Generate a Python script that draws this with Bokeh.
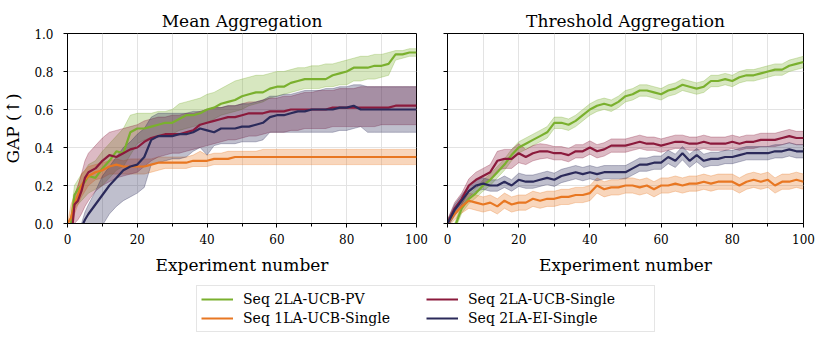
from bokeh.plotting import figure
from bokeh.models import Range1d, FixedTicker, Legend, LegendItem, PrintfTickFormatter, CustomJSTickFormatter
from bokeh.layouts import row, column
from bokeh.embed import file_html
from bokeh.resources import INLINE

# ---------------- data ----------------
labels = ["Seq 2LA-UCB-PV", "Seq 1LA-UCB-Single", "Seq 2LA-UCB-Single", "Seq 2LA-EI-Single"]
colors = ["#7ab02e", "#e87722", "#8b1a3c", "#2b2a5a"]

x_major = [0, 20, 40, 60, 80, 100]
x_minor = [10, 30, 50, 70, 90]
y_ticks = [0.0, 0.2, 0.4, 0.6, 0.8, 1.0]

# Mean aggregation panel
x_mean = [0, 1, 2, 3, 4, 5, 6, 8, 10, 12, 14, 16, 18, 20, 22, 24, 26, 28, 30, 32, 34, 36, 38, 40,
          42, 44, 46, 48, 50, 52, 54, 56, 58, 60, 62, 64, 66, 68, 70, 72, 74, 76, 78, 80, 82, 84,
          86, 88, 90, 92, 94, 96, 98, 100]

pv_mean = [-0.1, 0.0, 0.15, 0.18, 0.20, 0.22, 0.25, 0.24, 0.29, 0.33, 0.38, 0.37, 0.48, 0.50, 0.50,
           0.51, 0.52, 0.53, 0.53, 0.55, 0.57, 0.57, 0.58, 0.60, 0.61, 0.63, 0.64, 0.65, 0.67, 0.68,
           0.69, 0.69, 0.71, 0.72, 0.72, 0.74, 0.75, 0.76, 0.76, 0.76, 0.76, 0.78, 0.79, 0.80, 0.82,
           0.82, 0.82, 0.83, 0.83, 0.84, 0.89, 0.89, 0.90, 0.90]
pv_lo = [-0.1, -0.05, 0.08, 0.10, 0.12, 0.14, 0.16, 0.18, 0.20, 0.24, 0.28, 0.30, 0.36, 0.42, 0.44,
         0.45, 0.46, 0.47, 0.47, 0.49, 0.50, 0.51, 0.52, 0.53, 0.55, 0.57, 0.58, 0.59, 0.60, 0.62,
         0.63, 0.64, 0.66, 0.67, 0.68, 0.69, 0.70, 0.71, 0.71, 0.71, 0.72, 0.72, 0.73, 0.73, 0.75,
         0.75, 0.76, 0.76, 0.77, 0.78, 0.86, 0.87, 0.88, 0.88]
pv_hi = [-0.1, 0.05, 0.20, 0.23, 0.26, 0.28, 0.31, 0.33, 0.38, 0.42, 0.46, 0.50, 0.57, 0.58, 0.58,
         0.58, 0.59, 0.59, 0.60, 0.63, 0.64, 0.65, 0.66, 0.68, 0.69, 0.71, 0.73, 0.75, 0.76, 0.77,
         0.78, 0.78, 0.79, 0.80, 0.80, 0.81, 0.82, 0.82, 0.83, 0.83, 0.84, 0.84, 0.85, 0.86, 0.87,
         0.88, 0.88, 0.89, 0.89, 0.90, 0.91, 0.91, 0.92, 0.92]

la1_mean = [0.0, 0.03, 0.10, 0.15, 0.20, 0.23, 0.25, 0.27, 0.28, 0.30, 0.31, 0.30, 0.30, 0.30, 0.30,
            0.31, 0.32, 0.32, 0.32, 0.32, 0.32, 0.33, 0.33, 0.33, 0.34, 0.34, 0.34, 0.35, 0.35, 0.35,
            0.35, 0.35, 0.35, 0.35, 0.35, 0.35, 0.35, 0.35, 0.35, 0.35, 0.35, 0.35, 0.35, 0.35, 0.35,
            0.35, 0.35, 0.35, 0.35, 0.35, 0.35, 0.35, 0.35, 0.35]
la1_lo = [0.0, -0.03, 0.05, 0.10, 0.14, 0.17, 0.20, 0.23, 0.24, 0.26, 0.26, 0.26, 0.26, 0.26, 0.26,
          0.27, 0.28, 0.29, 0.29, 0.29, 0.29, 0.30, 0.30, 0.30, 0.31, 0.31, 0.31, 0.31, 0.31, 0.31,
          0.31, 0.31, 0.31, 0.31, 0.31, 0.31, 0.31, 0.31, 0.31, 0.31, 0.31, 0.31, 0.31, 0.31, 0.31,
          0.31, 0.31, 0.31, 0.31, 0.31, 0.31, 0.31, 0.31, 0.31]
la1_hi = [0.0, 0.10, 0.15, 0.20, 0.26, 0.28, 0.30, 0.31, 0.32, 0.33, 0.34, 0.33, 0.34, 0.34, 0.34,
          0.34, 0.35, 0.35, 0.35, 0.35, 0.35, 0.36, 0.38, 0.36, 0.37, 0.37, 0.38, 0.38, 0.38, 0.38,
          0.38, 0.39, 0.39, 0.39, 0.39, 0.39, 0.39, 0.39, 0.39, 0.39, 0.39, 0.39, 0.39, 0.39, 0.39,
          0.39, 0.39, 0.39, 0.39, 0.39, 0.39, 0.39, 0.39, 0.39]

ucb_mean = [-0.1, -0.1, 0.10, 0.12, 0.17, 0.24, 0.27, 0.29, 0.33, 0.36, 0.35, 0.37, 0.39, 0.40, 0.43,
            0.45, 0.46, 0.47, 0.47, 0.47, 0.48, 0.49, 0.52, 0.53, 0.54, 0.55, 0.56, 0.56, 0.57, 0.58,
            0.58, 0.58, 0.59, 0.59, 0.59, 0.60, 0.60, 0.60, 0.60, 0.60, 0.60, 0.61, 0.61, 0.61, 0.61,
            0.61, 0.61, 0.61, 0.61, 0.61, 0.62, 0.62, 0.62, 0.62]
ucb_lo = [-0.1, -0.1, 0.00, 0.02, 0.05, 0.09, 0.12, 0.17, 0.20, 0.22, 0.24, 0.25, 0.26, 0.27, 0.30,
          0.33, 0.35, 0.36, 0.37, 0.37, 0.38, 0.39, 0.40, 0.41, 0.42, 0.43, 0.44, 0.44, 0.45, 0.46,
          0.46, 0.47, 0.48, 0.48, 0.48, 0.49, 0.49, 0.50, 0.50, 0.50, 0.50, 0.51, 0.51, 0.51, 0.51,
          0.51, 0.51, 0.51, 0.52, 0.52, 0.52, 0.52, 0.52, 0.52]
ucb_hi = [-0.1, 0.00, 0.15, 0.20, 0.26, 0.33, 0.37, 0.41, 0.45, 0.48, 0.49, 0.50, 0.51, 0.52, 0.54,
          0.55, 0.56, 0.56, 0.57, 0.57, 0.58, 0.58, 0.59, 0.60, 0.61, 0.61, 0.62, 0.62, 0.63, 0.64,
          0.64, 0.65, 0.66, 0.66, 0.67, 0.67, 0.68, 0.69, 0.69, 0.70, 0.70, 0.70, 0.71, 0.71, 0.71,
          0.72, 0.72, 0.72, 0.72, 0.72, 0.72, 0.72, 0.72, 0.72]

ei_mean = [-0.1, -0.1, -0.1, -0.1, -0.02, 0.02, 0.05, 0.10, 0.15, 0.20, 0.24, 0.28, 0.30, 0.31, 0.35,
           0.44, 0.46, 0.46, 0.46, 0.47, 0.47, 0.48, 0.50, 0.49, 0.48, 0.50, 0.50, 0.50, 0.51, 0.51,
           0.52, 0.53, 0.56, 0.57, 0.57, 0.58, 0.59, 0.59, 0.60, 0.60, 0.60, 0.60, 0.61, 0.61, 0.62,
           0.60, 0.60, 0.60, 0.60, 0.60, 0.60, 0.60, 0.60, 0.60]
ei_lo = [-0.1, -0.1, -0.1, -0.1, -0.1, -0.05, -0.04, -0.03, -0.01, 0.05, 0.09, 0.12, 0.14, 0.16, 0.19,
         0.31, 0.32, 0.33, 0.34, 0.34, 0.35, 0.38, 0.40, 0.36, 0.41, 0.42, 0.42, 0.42, 0.43, 0.43,
         0.43, 0.44, 0.48, 0.48, 0.48, 0.48, 0.48, 0.48, 0.48, 0.48, 0.48, 0.48, 0.49, 0.49, 0.50,
         0.51, 0.48, 0.48, 0.48, 0.48, 0.48, 0.48, 0.48, 0.48]
ei_hi = [-0.1, -0.1, -0.1, -0.1, 0.00, 0.06, 0.10, 0.17, 0.25, 0.30, 0.35, 0.40, 0.43, 0.47, 0.50,
         0.56, 0.58, 0.58, 0.58, 0.58, 0.58, 0.59, 0.59, 0.60, 0.61, 0.61, 0.62, 0.62, 0.63, 0.63,
         0.64, 0.65, 0.67, 0.67, 0.68, 0.68, 0.69, 0.70, 0.70, 0.70, 0.71, 0.71, 0.72, 0.72, 0.73,
         0.73, 0.72, 0.72, 0.72, 0.72, 0.72, 0.72, 0.72, 0.72]

# Threshold aggregation panel
x_thr = list(range(0, 101, 2))

pv_thr = [-0.05, -0.02, 0.08, 0.13, 0.16, 0.20, 0.23, 0.27, 0.31, 0.36,
          0.40, 0.42, 0.44, 0.46, 0.48, 0.53, 0.53, 0.52, 0.54, 0.57,
          0.60, 0.62, 0.63, 0.62, 0.64, 0.67, 0.68, 0.70, 0.70, 0.69,
          0.68, 0.70, 0.71, 0.73, 0.72, 0.71, 0.72, 0.75, 0.75, 0.76,
          0.75, 0.77, 0.78, 0.78, 0.79, 0.80, 0.81, 0.81, 0.83, 0.84,
          0.85]
pv_thr_sd = [0.02, 0.02, 0.025, 0.025, 0.025, 0.03, 0.03, 0.03, 0.03, 0.03,
             0.03, 0.03, 0.03, 0.03, 0.03, 0.03, 0.03, 0.03, 0.03, 0.03,
             0.03, 0.03, 0.03, 0.03, 0.03, 0.03, 0.03, 0.03, 0.03, 0.03,
             0.03, 0.03, 0.03, 0.03, 0.03, 0.03, 0.03, 0.03, 0.03, 0.03,
             0.03, 0.03, 0.03, 0.03, 0.03, 0.03, 0.03, 0.03, 0.03, 0.03,
             0.03]

la1_thr = [0.00, 0.05, 0.09, 0.12, 0.11, 0.10, 0.11, 0.09, 0.12, 0.10,
           0.11, 0.11, 0.13, 0.12, 0.13, 0.13, 0.14, 0.14, 0.15, 0.15,
           0.16, 0.20, 0.18, 0.19, 0.19, 0.20, 0.20, 0.19, 0.20, 0.18,
           0.20, 0.20, 0.21, 0.20, 0.21, 0.21, 0.22, 0.21, 0.22, 0.22,
           0.22, 0.20, 0.22, 0.23, 0.22, 0.23, 0.20, 0.22, 0.22, 0.23,
           0.22]
la1_thr_sd = [0.02, 0.03, 0.035, 0.04, 0.04, 0.04, 0.04, 0.04, 0.04, 0.04,
              0.04, 0.04, 0.04, 0.04, 0.04, 0.04, 0.04, 0.04, 0.04, 0.04,
              0.04, 0.04, 0.04, 0.04, 0.04, 0.04, 0.04, 0.04, 0.04, 0.04,
              0.04, 0.04, 0.04, 0.04, 0.04, 0.04, 0.04, 0.04, 0.04, 0.04,
              0.04, 0.04, 0.04, 0.04, 0.04, 0.04, 0.04, 0.04, 0.04, 0.04,
              0.04]

ucb_thr = [0.00, 0.08, 0.13, 0.20, 0.23, 0.25, 0.27, 0.33, 0.34, 0.34,
           0.37, 0.35, 0.37, 0.38, 0.38, 0.37, 0.37, 0.36, 0.38, 0.38,
           0.40, 0.38, 0.39, 0.41, 0.41, 0.41, 0.42, 0.43, 0.42, 0.42,
           0.41, 0.42, 0.43, 0.43, 0.42, 0.42, 0.43, 0.42, 0.42, 0.42,
           0.43, 0.42, 0.43, 0.43, 0.44, 0.44, 0.44, 0.45, 0.46, 0.45,
           0.45]
ucb_thr_sd = [0.02, 0.03, 0.03, 0.035, 0.04, 0.04, 0.04, 0.05, 0.05, 0.05,
              0.05, 0.04, 0.04, 0.04, 0.035, 0.035, 0.035, 0.035, 0.035, 0.035,
              0.035, 0.035, 0.035, 0.035, 0.035, 0.035, 0.035, 0.035, 0.035, 0.035,
              0.035, 0.035, 0.035, 0.035, 0.035, 0.035, 0.035, 0.035, 0.035, 0.035,
              0.035, 0.035, 0.035, 0.035, 0.035, 0.035, 0.035, 0.035, 0.035, 0.035,
              0.035]

ei_thr = [0.00, 0.07, 0.12, 0.17, 0.20, 0.21, 0.20, 0.20, 0.22, 0.20,
          0.23, 0.22, 0.22, 0.23, 0.24, 0.23, 0.25, 0.26, 0.27, 0.26,
          0.27, 0.26, 0.27, 0.27, 0.27, 0.27, 0.29, 0.31, 0.31, 0.32,
          0.32, 0.35, 0.33, 0.37, 0.33, 0.36, 0.33, 0.34, 0.34, 0.35,
          0.35, 0.36, 0.37, 0.37, 0.37, 0.37, 0.38, 0.38, 0.39, 0.38,
          0.38]
ei_thr_sd = [0.02, 0.03, 0.03, 0.03, 0.03, 0.03, 0.03, 0.03, 0.03, 0.03,
             0.035, 0.035, 0.035, 0.035, 0.035, 0.035, 0.035, 0.035, 0.035, 0.035,
             0.035, 0.035, 0.035, 0.035, 0.035, 0.035, 0.035, 0.035, 0.035, 0.035,
             0.035, 0.035, 0.035, 0.035, 0.035, 0.035, 0.035, 0.035, 0.035, 0.035,
             0.035, 0.035, 0.035, 0.035, 0.035, 0.035, 0.035, 0.035, 0.035, 0.035,
             0.035]

# ---------------- styling helpers ----------------
FONT = "DejaVu Serif"


def make_fig(title, width, left, right, show_labels):
    p = figure(width=width, height=277, x_range=Range1d(0, 100), y_range=Range1d(0, 1),
               output_backend="svg", toolbar_location=None, title=title,
               min_border_left=left, min_border_right=right, min_border_top=33,
               min_border_bottom=54)
    p.title.text_font = FONT
    p.title.text_font_size = "17px"
    p.title.text_font_style = "normal"
    p.title.align = "center"
    p.title.text_color = "black"
    p.title.standoff = 6
    p.outline_line_color = "black"
    p.outline_line_width = 1
    p.xaxis.ticker = FixedTicker(ticks=x_major, minor_ticks=x_minor)
    p.yaxis.ticker = FixedTicker(ticks=y_ticks, minor_ticks=[])
    p.xgrid.ticker = FixedTicker(ticks=x_major + x_minor)
    p.ygrid.ticker = FixedTicker(ticks=y_ticks)
    p.grid.grid_line_color = "#e3e3e3"
    p.grid.grid_line_width = 1
    for ax in p.axis:
        ax.axis_line_color = "black"
        ax.major_tick_line_color = "black"
        ax.minor_tick_line_color = "black"
        ax.major_tick_in = 0
        ax.major_tick_out = 4
        ax.minor_tick_in = 0
        ax.minor_tick_out = 3
        ax.major_label_text_font = FONT
        ax.major_label_text_font_size = "12px"
        ax.major_label_text_color = "black"
        ax.major_label_text_line_height = 1.0
        ax.axis_label_text_font = FONT
        ax.axis_label_text_font_size = "17px"
        ax.axis_label_text_font_style = "normal"
        ax.axis_label_text_color = "black"
        ax.axis_label_text_line_height = 1.0
    p.xaxis.major_label_standoff = 6
    p.xaxis.axis_label_standoff = 8
    p.xaxis.axis_label = "Experiment number"
    p.yaxis.major_label_standoff = 10
    if show_labels:
        p.yaxis.formatter = PrintfTickFormatter(format="%.1f")
        p.yaxis.axis_label = "GAP (\u2191)"
        p.yaxis.axis_label_standoff = 8
    else:
        p.yaxis.formatter = CustomJSTickFormatter(code="return ''")
    return p


def draw(p, x, series):
    for (lo, hi), c in zip([s[1:] for s in series], colors):
        p.varea(x=x, y1=lo, y2=hi, fill_color=c, fill_alpha=0.3)
        p.line(x, lo, line_color=c, line_alpha=0.3, line_width=1)
        p.line(x, hi, line_color=c, line_alpha=0.3, line_width=1)
    for s, c in zip(series, colors):
        p.line(x, s[0], line_color=c, line_width=2.2)


mean_series = [(pv_mean, pv_lo, pv_hi), (la1_mean, la1_lo, la1_hi),
               (ucb_mean, ucb_lo, ucb_hi), (ei_mean, ei_lo, ei_hi)]
p1 = make_fig("Mean Aggregation", 432, 61, 16, True)
draw(p1, x_mean, mean_series)

p2 = make_fig("Threshold Aggregation", 383, 15, 12, False)
thr = []
for m, sd in [(pv_thr, pv_thr_sd), (la1_thr, la1_thr_sd), (ucb_thr, ucb_thr_sd), (ei_thr, ei_thr_sd)]:
    thr.append((m, [a - b for a, b in zip(m, sd)], [a + b for a, b in zip(m, sd)]))
draw(p2, x_thr, thr)

# ---------------- legend strip ----------------
# the lines are drawn outside this strip's visible range; only their legend entries show
p3 = figure(width=815, height=55, x_range=Range1d(0, 100), y_range=Range1d(5, 6),
            output_backend="svg", toolbar_location=None, min_border=0)
p3.axis.visible = False
p3.grid.visible = False
p3.outline_line_color = None
items = []
for lab, s, c in zip(labels, mean_series, colors):
    r = p3.line(x_mean, s[0], line_color=c, line_width=2.2)
    items.append(LegendItem(label=lab, renderers=[r]))
leg = Legend(items=items, location=(196, 0), ncols=2)
leg.label_text_font = FONT
leg.label_text_font_size = "14px"
leg.label_text_color = "black"
leg.glyph_width = 32
leg.glyph_height = 18
leg.label_height = 18
leg.label_width = 182
leg.label_standoff = 10
leg.spacing = 1
leg.padding = 4
leg.margin = 0
leg.border_line_color = "#cccccc"
leg.border_line_width = 1.3
p3.add_layout(leg)

layout = column(row(p1, p2), p3)
open("out.html", "w").write(file_html(layout, INLINE))
